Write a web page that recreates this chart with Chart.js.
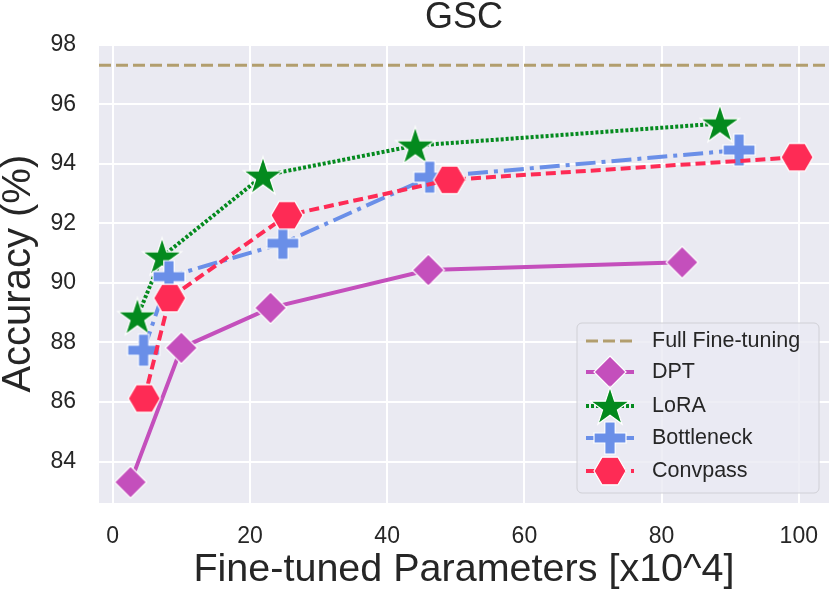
<!DOCTYPE html>
<html>
<head>
<meta charset="utf-8">
<script src="https://cdn.jsdelivr.net/npm/chart.js@4/dist/chart.umd.min.js"></script>
<style>
  body { margin: 0; background: #fff; }
  #wrap { width: 831px; height: 596px; }
</style>
</head>
<body>
<div id="wrap"><canvas id="chart" width="831" height="596"></canvas></div>
<script>
// values
var xTicks = [0, 20, 40, 60, 80, 100];
var yTicks = [84, 86, 88, 90, 92, 94, 96, 98];

var fullFT = 97.31;

var dptX = [2.6, 10.0, 23.0, 46.0, 83.0];
var dptY = [83.31, 87.82, 89.16, 90.43, 90.69];

var loraX = [3.6, 7.2, 21.9, 44.1, 88.5];
var loraY = [88.87, 90.88, 93.60, 94.61, 95.35];

var bottleX = [4.5, 8.2, 24.8, 46.2, 91.3];
var bottleY = [87.74, 90.21, 91.33, 93.55, 94.46];

var convX = [4.6, 8.3, 25.4, 49.1, 99.75];
var convY = [86.12, 89.49, 92.27, 93.46, 94.22];

var TXT = '#262626';
var FONT = 'Liberation Sans, Arial, sans-serif';

function pts(xs, ys) {
    return xs.map(function (x, i) { return { x: x, y: ys[i] }; });
}

// filled marker shapes with a thin white edge
function marker(kind, color) {
    var s = 46, c = document.createElement('canvas');
    c.width = s; c.height = s;
    var g = c.getContext('2d');
    g.translate(s / 2, s / 2);
    g.beginPath();
    var i, a;
    if (kind === 'diamond') {
        var r = 16;
        g.moveTo(0, -r); g.lineTo(r, 0); g.lineTo(0, r); g.lineTo(-r, 0);
    } else if (kind === 'star') {
        var ro = 20.5, ri = 20.5 * 0.382;
        g.translate(0, 1.5);
        for (i = 0; i < 10; i++) {
            a = -Math.PI / 2 + i * Math.PI / 5;
            var rr = i % 2 ? ri : ro;
            g.lineTo(rr * Math.cos(a), rr * Math.sin(a));
        }
    } else if (kind === 'plus') {
        var h = 16, t = 5.2;
        g.moveTo(-t, -h); g.lineTo(t, -h); g.lineTo(t, -t); g.lineTo(h, -t);
        g.lineTo(h, t); g.lineTo(t, t); g.lineTo(t, h); g.lineTo(-t, h);
        g.lineTo(-t, t); g.lineTo(-h, t); g.lineTo(-h, -t); g.lineTo(-t, -t);
    } else if (kind === 'hex') {
        var rh = 16;
        for (i = 0; i < 6; i++) {
            a = i * Math.PI / 3;
            g.lineTo(rh * Math.cos(a), rh * Math.sin(a));
        }
    }
    g.closePath();
    g.fillStyle = color;
    g.fill();
    g.lineWidth = 1.2;
    g.strokeStyle = '#ffffff';
    g.stroke();
    return c;
}

var series = [
    { label: 'DPT', xs: dptX, ys: dptY, color: '#c44fbc', dash: [], mk: 'diamond' },
    { label: 'LoRA', xs: loraX, ys: loraY, color: '#048a1e', dash: [3, 2], mk: 'star' },
    { label: 'Bottleneck', xs: bottleX, ys: bottleY, color: '#6a8fe8', dash: [20, 6, 4, 6], mk: 'plus' },
    { label: 'Convpass', xs: convX, ys: convY, color: '#fe2b55', dash: [10, 5], mk: 'hex' }
];
series.forEach(function (s) { s.img = marker(s.mk, s.color); });

var datasets = [{
    label: 'Full Fine-tuning',
    data: [{ x: -2.0, y: fullFT }, { x: 104.4, y: fullFT }],
    borderColor: '#b29e6e',
    borderWidth: 3,
    borderDash: [12, 5],
    pointRadius: 0,
    order: 10
}];
series.forEach(function (s, i) {
    datasets.push({
        label: s.label,
        data: pts(s.xs, s.ys),
        borderColor: s.color,
        borderWidth: 4,
        borderDash: s.dash,
        borderCapStyle: 'butt',
        pointStyle: s.img,
        pointRadius: 12,
        tension: 0,
        order: 5 - i
    });
});

var plotBg = {
    id: 'plotBg',
    beforeDraw: function (chart) {
        var a = chart.chartArea, ctx = chart.ctx;
        ctx.save();
        ctx.fillStyle = '#eaeaf2';
        ctx.fillRect(a.left, a.top, a.right - a.left, a.bottom - a.top);
        ctx.restore();
    }
};

// legend inside the plot, lower right, with line + marker handles
var boxLegend = {
    id: 'boxLegend',
    afterDraw: function (chart) {
        var ctx = chart.ctx;
        var bx = 577, by = 323, bw = 242, bh = 170;
        ctx.save();
        ctx.beginPath();
        ctx.roundRect(bx, by, bw, bh, 5);
        ctx.fillStyle = 'rgba(234,234,242,0.8)';
        ctx.fill();
        ctx.lineWidth = 1;
        ctx.strokeStyle = '#d0d0d6';
        ctx.stroke();
        var rows = [341, 372, 406, 438, 471];
        ctx.font = '21.5px ' + FONT;
        ctx.textBaseline = 'middle';
        ctx.fillStyle = TXT;
        ctx.fillText('Full Fine-tuning', 652, rows[0]);
        ctx.beginPath();
        ctx.setLineDash([12, 5]);
        ctx.strokeStyle = '#b29e6e';
        ctx.lineWidth = 3;
        ctx.moveTo(586, rows[0]); ctx.lineTo(634, rows[0]);
        ctx.stroke();
        series.forEach(function (s, i) {
            var y = rows[i + 1];
            ctx.beginPath();
            ctx.setLineDash(s.dash);
            ctx.strokeStyle = s.color;
            ctx.lineWidth = 4;
            ctx.moveTo(586, y); ctx.lineTo(634, y);
            ctx.stroke();
            ctx.setLineDash([]);
            ctx.drawImage(s.img, 610 - s.img.width / 2, y - s.img.height / 2);
            ctx.fillStyle = TXT;
            ctx.fillText(s.label, 652, y);
        });
        ctx.restore();
    }
};

new Chart(document.getElementById('chart'), {
    type: 'line',
    data: { datasets: datasets },
    plugins: [plotBg, boxLegend],
    options: {
        responsive: false,
        animation: false,
        events: [],
        devicePixelRatio: 1,
        layout: { autoPadding: false, padding: { left: 0, right: 2, top: 0, bottom: 0 } },
        plugins: {
            legend: { display: false },
            tooltip: { enabled: false },
            title: {
                display: true,
                fullSize: false,
                text: 'GSC',
                color: TXT,
                font: { family: FONT, size: 36, weight: 'normal', lineHeight: 1 },
                padding: { top: 0, bottom: 8.3 }
            }
        },
        scales: {
            x: {
                type: 'linear',
                min: -2.0,
                max: 104.4,
                afterBuildTicks: function (sc) { sc.ticks = xTicks.map(function (v) { return { value: v }; }); },
                afterFit: function (sc) { sc.height = 93; },
                grid: { color: '#ffffff', lineWidth: 2, drawTicks: true, tickLength: 20, tickColor: 'rgba(0,0,0,0)' },
                border: { display: false },
                ticks: { color: TXT, font: { family: FONT, size: 23 }, padding: 0, maxRotation: 0 },
                title: {
                    display: true,
                    text: 'Fine-tuned Parameters [x10^4]',
                    color: TXT,
                    font: { family: FONT, size: 39.5, lineHeight: 1.2 },
                    padding: { top: 0, bottom: 2 }
                }
            },
            y: {
                min: 82.61,
                max: 98.01,
                afterBuildTicks: function (sc) { sc.ticks = yTicks.map(function (v) { return { value: v }; }); },
                afterFit: function (sc) { sc.width = 99; },
                grid: { color: '#ffffff', lineWidth: 2, drawTicks: true, tickLength: 23, tickColor: 'rgba(0,0,0,0)' },
                border: { display: false },
                ticks: { color: TXT, font: { family: FONT, size: 23 }, padding: 0 },
                title: {
                    display: true,
                    text: 'Accuracy (%)',
                    color: TXT,
                    font: { family: FONT, size: 40, lineHeight: 1 },
                    padding: { top: -1.5, bottom: 0 }
                }
            }
        }
    }
});
</script>
</body>
</html>
